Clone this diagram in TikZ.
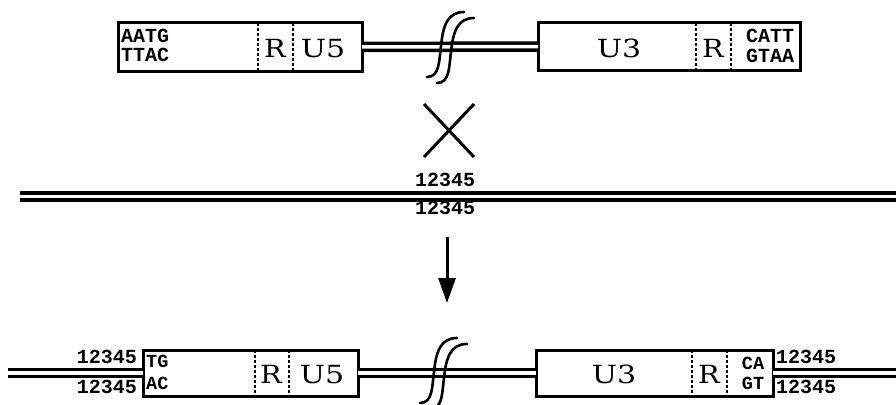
\documentclass[tikz,border=0pt]{standalone}
\usepackage{fontspec}
\setmainfont{DejaVu Serif}
\setmonofont{Liberation Mono}
\usetikzlibrary{arrows.meta}
\begin{document}
\begin{tikzpicture}[x=1pt,y=-1pt,
  box/.style={draw, line width=3pt, inner sep=0pt, outer sep=0pt},
  divider/.style={line width=1.2pt, dash pattern=on 3pt off 2pt},
  dna/.style={line width=3.5pt, double=white, double distance=3.5pt},
  seq/.style={inner sep=0pt, font=\fontsize{20}{20}\selectfont\ttfamily\bfseries},
  sseq/.style={inner sep=0pt, font=\fontsize{18.5}{19}\selectfont\ttfamily\bfseries},
  lbl/.style={inner sep=0pt, font=\fontsize{25}{25}\selectfont},
  brk/.style={line width=2.6pt, line cap=round},
  thick line/.style={line width=3pt}]
\useasboundingbox (0,0) rectangle (896,404);

% ---------- top row ----------
\node[box, minimum width=244pt, minimum height=48pt] (lbox) at (240,47) {};
\node[box, minimum width=262pt, minimum height=47pt] (rbox) at (669,46.5) {};
\draw[dna] (lbox.east) -- (rbox.west);
\draw[divider] (258,0 |- lbox.north) -- (258,0 |- lbox.south);
\draw[divider] (293,0 |- lbox.north) -- (293,0 |- lbox.south);
\draw[divider] (696,0 |- rbox.north) -- (696,0 |- rbox.south);
\draw[divider] (731,0 |- rbox.north) -- (731,0 |- rbox.south);
\node[seq, anchor=base west] (aatg) at (121,42) {AATG};
\node[seq, anchor=base west] (ttac) at (121,62) {TTAC};
\node[lbl, anchor=base] (r1) at (275,57) {\scalebox{1.15}[1]{R}};
\node[lbl, anchor=base] (u51) at (323,57) {\scalebox{1.2}[1]{U5}};
\node[lbl, anchor=base] (u31) at (619,57) {\scalebox{1.2}[1]{U3}};
\node[lbl, anchor=base] (r2) at (713,57) {\scalebox{1.15}[1]{R}};
\node[seq, anchor=base] (catt) at (770,42) {CATT};
\node[seq, anchor=base] (gtaa) at (770,63) {GTAA};
\foreach \dx/\dy in {0/0,10/6}{
  \begin{scope}[shift={(\dx,\dy)}]
  \draw[brk] (427,77) .. controls (440,77) and (439,60) .. (441,46)
                      .. controls (443,25) and (448,12) .. (464,12);
  \end{scope}}

% ---------- middle ----------
\coordinate (xa) at (424,104); \coordinate (xb) at (474,157);
\coordinate (xc) at (474,104); \coordinate (xd) at (424,157);
\draw[thick line] (xa) -- (xb);
\draw[thick line] (xc) -- (xd);
\node[seq, anchor=base] (mtop) at (445,186) {12345};
\node[seq, anchor=base] (mbot) at (445,214) {12345};
\coordinate (ml) at (20,196.5);
\coordinate (mr) at (896,196.5);
\draw[dna] (ml) -- (mr);
\coordinate (aa) at (447,237);
\coordinate (ab) at (447,303);
\draw[thick line, -{Triangle[length=25pt,width=17pt]}] (aa) -- (ab);

% ---------- bottom row ----------
\node[box, minimum width=215pt, minimum height=46pt] (blbox) at (250.5,373) {};
\node[box, minimum width=237pt, minimum height=46pt] (brbox) at (654.5,373) {};
\coordinate (bl) at (8,373);
\coordinate (br) at (896,373);
\draw[dna] (bl) -- (blbox.west);
\draw[dna] (blbox.east) -- (brbox.west);
\draw[dna] (brbox.east) -- (br);
\draw[divider] (255,0 |- blbox.north) -- (255,0 |- blbox.south);
\draw[divider] (289,0 |- blbox.north) -- (289,0 |- blbox.south);
\draw[divider] (692,0 |- brbox.north) -- (692,0 |- brbox.south);
\draw[divider] (727,0 |- brbox.north) -- (727,0 |- brbox.south);
\node[sseq, anchor=base west] (tg) at (146,367) {TG};
\node[sseq, anchor=base west] (ac) at (146,389) {AC};
\node[lbl, anchor=base] (r3) at (271,383) {\scalebox{1.15}[1]{R}};
\node[lbl, anchor=base] (u52) at (322,383) {\scalebox{1.2}[1]{U5}};
\node[lbl, anchor=base] (u32) at (614,383) {\scalebox{1.2}[1]{U3}};
\node[lbl, anchor=base] (r4) at (709,383) {\scalebox{1.15}[1]{R}};
\node[sseq, anchor=base] (ca) at (753,369) {CA};
\node[sseq, anchor=base] (gt) at (753,389) {GT};
\node[seq, anchor=base east] (l1) at (137,363) {12345};
\node[seq, anchor=base east] (l2) at (137,393) {12345};
\node[seq, anchor=base west] (r1n) at (776,363) {12345};
\node[seq, anchor=base west] (r2n) at (776,393) {12345};
\foreach \dx/\dy in {0/0,10/6}{
  \begin{scope}[shift={(\dx-7,\dy+326)}]
  \draw[brk] (427,77) .. controls (440,77) and (439,60) .. (441,46)
                      .. controls (443,25) and (448,12) .. (464,12);
  \end{scope}}
\end{tikzpicture}
\end{document}
